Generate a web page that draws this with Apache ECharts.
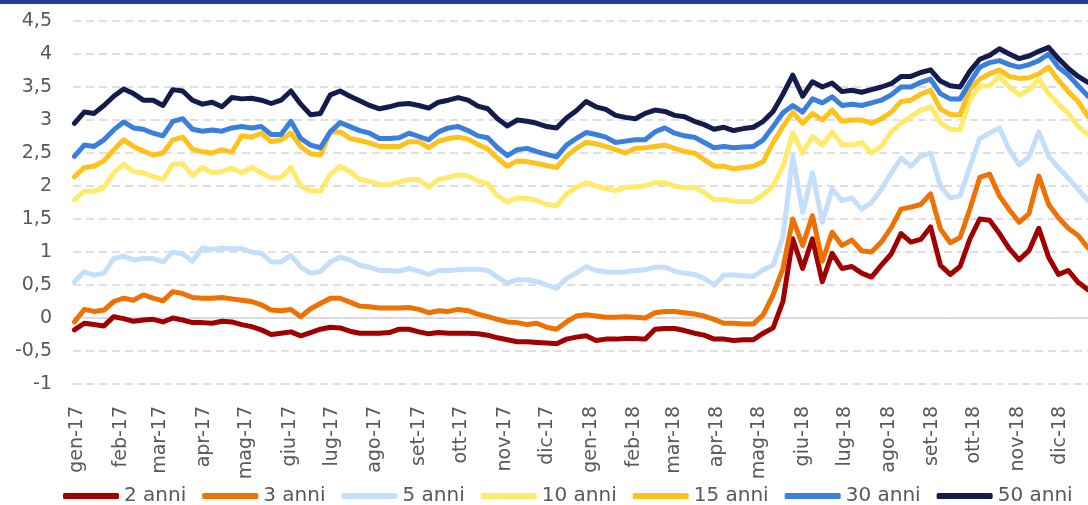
<!DOCTYPE html>
<html lang="it">
<head>
    <meta charset="UTF-8">
    <title>Rendimenti titoli di Stato</title>
    <script src="https://cdn.jsdelivr.net/npm/echarts@6/dist/echarts.min.js"></script>
    <style>
        html, body { margin: 0; padding: 0; background: #fff; }
        #chart { width: 1088px; height: 505px; }
    </style>
</head>
<body>
<div id="chart"></div>
<script type="text/javascript">
    // weekly readings, first week starting 2 Jan 2017
    const firstWeek = '2017-01-02';
    const monthNames = ['gen', 'feb', 'mar', 'apr', 'mag', 'giu', 'lug', 'ago', 'set', 'ott', 'nov', 'dic'];
    const seriesNames = ['2 anni', '3 anni', '5 anni', '10 anni', '15 anni', '30 anni', '50 anni'];
    const seriesColors = ['#A00000', '#EE7203', '#C5DFFB', '#FFEA6B', '#FFC21D', '#3A7FDC', '#141B4D'];

    const y2 = [-0.18, -0.08, -0.10, -0.12, 0.02, -0.01, -0.05, -0.03, -0.02, -0.06,
        0.00, -0.03, -0.07, -0.07, -0.08, -0.05, -0.06, -0.10, -0.13, -0.18,
        -0.25, -0.23, -0.21, -0.27, -0.22, -0.17, -0.14, -0.15, -0.20, -0.23,
        -0.23, -0.23, -0.22, -0.17, -0.17, -0.21, -0.24, -0.22, -0.23, -0.23,
        -0.23, -0.24, -0.26, -0.30, -0.33, -0.36, -0.36, -0.37, -0.38, -0.39,
        -0.32, -0.29, -0.27, -0.34, -0.32, -0.32, -0.31, -0.31, -0.32, -0.17,
        -0.16, -0.16, -0.19, -0.23, -0.26, -0.32, -0.32, -0.34, -0.33, -0.33,
        -0.23, -0.15, 0.25, 1.20, 0.75, 1.20, 0.55, 0.98, 0.75, 0.78,
        0.68, 0.62, 0.80, 0.97, 1.28, 1.15, 1.19, 1.38, 0.80, 0.66,
        0.78, 1.20, 1.50, 1.48, 1.28, 1.05, 0.88, 1.02, 1.36, 0.92,
        0.66, 0.72, 0.54, 0.43];
    const y3 = [-0.06, 0.13, 0.10, 0.12, 0.25, 0.30, 0.27, 0.35, 0.30, 0.26,
        0.40, 0.37, 0.31, 0.30, 0.30, 0.31, 0.29, 0.27, 0.25, 0.20,
        0.12, 0.11, 0.13, 0.02, 0.14, 0.22, 0.30, 0.30, 0.24, 0.18,
        0.17, 0.15, 0.15, 0.15, 0.16, 0.13, 0.08, 0.11, 0.10, 0.13,
        0.11, 0.06, 0.02, -0.02, -0.06, -0.07, -0.10, -0.08, -0.14, -0.17,
        -0.06, 0.03, 0.05, 0.03, 0.01, 0.01, 0.02, 0.01, 0.00, 0.08,
        0.10, 0.10, 0.08, 0.06, 0.03, -0.02, -0.08, -0.08, -0.09, -0.09,
        0.05, 0.35, 0.75, 1.50, 1.10, 1.55, 0.86, 1.30, 1.10, 1.18,
        1.02, 1.00, 1.15, 1.37, 1.65, 1.68, 1.72, 1.88, 1.35, 1.14,
        1.22, 1.65, 2.13, 2.18, 1.85, 1.64, 1.45, 1.58, 2.15, 1.72,
        1.52, 1.36, 1.25, 1.06];
    const y5 = [0.55, 0.70, 0.65, 0.68, 0.90, 0.94, 0.88, 0.90, 0.90, 0.85,
        1.00, 0.97, 0.86, 1.06, 1.04, 1.06, 1.05, 1.05, 1.00, 0.98,
        0.85, 0.85, 0.95, 0.77, 0.68, 0.70, 0.85, 0.92, 0.88, 0.80,
        0.77, 0.72, 0.72, 0.71, 0.75, 0.71, 0.66, 0.72, 0.72, 0.73,
        0.74, 0.74, 0.72, 0.62, 0.53, 0.58, 0.58, 0.55, 0.50, 0.45,
        0.60, 0.68, 0.78, 0.72, 0.70, 0.69, 0.70, 0.72, 0.73, 0.77,
        0.77, 0.71, 0.68, 0.66, 0.60, 0.50, 0.65, 0.65, 0.64, 0.63,
        0.73, 0.80, 1.23, 2.45, 1.60, 2.20, 1.45, 1.95, 1.78, 1.82,
        1.65, 1.75, 1.95, 2.20, 2.42, 2.30, 2.45, 2.50, 2.00, 1.82,
        1.85, 2.30, 2.72, 2.80, 2.88, 2.55, 2.32, 2.44, 2.82, 2.45,
        2.28, 2.12, 1.95, 1.78];
    const y10 = [1.79, 1.92, 1.92, 1.98, 2.20, 2.33, 2.22, 2.20, 2.14, 2.10,
        2.33, 2.34, 2.16, 2.28, 2.20, 2.22, 2.27, 2.20, 2.28, 2.20,
        2.12, 2.13, 2.28, 2.00, 1.93, 1.92, 2.18, 2.30, 2.22, 2.10,
        2.07, 2.02, 2.02, 2.06, 2.10, 2.10, 1.98, 2.10, 2.13, 2.17,
        2.15, 2.08, 2.03, 1.85, 1.76, 1.82, 1.81, 1.78, 1.72, 1.70,
        1.88, 1.98, 2.05, 2.00, 1.96, 1.93, 1.98, 1.99, 2.00, 2.05,
        2.05, 2.00, 1.97, 1.98, 1.90, 1.79, 1.80, 1.77, 1.76, 1.77,
        1.87, 2.00, 2.30, 2.80, 2.50, 2.75, 2.62, 2.82, 2.63, 2.62,
        2.66, 2.50, 2.60, 2.82, 2.95, 3.05, 3.15, 3.20, 2.96, 2.86,
        2.85, 3.31, 3.51, 3.52, 3.66, 3.50, 3.38, 3.46, 3.62, 3.40,
        3.24, 3.10, 2.90, 2.78];
    const y15 = [2.14, 2.28, 2.30, 2.38, 2.55, 2.70, 2.60, 2.53, 2.47, 2.50,
        2.70, 2.74, 2.56, 2.52, 2.50, 2.55, 2.51, 2.76, 2.74, 2.80,
        2.67, 2.70, 2.80, 2.60, 2.49, 2.47, 2.82, 2.82, 2.72, 2.69,
        2.65, 2.60, 2.60, 2.60, 2.67, 2.67, 2.58, 2.68, 2.72, 2.74,
        2.71, 2.63, 2.56, 2.42, 2.30, 2.38, 2.37, 2.34, 2.31, 2.28,
        2.45, 2.57, 2.66, 2.64, 2.60, 2.55, 2.50, 2.57, 2.58, 2.60,
        2.62, 2.57, 2.52, 2.50, 2.40, 2.30, 2.30, 2.26, 2.28, 2.30,
        2.37, 2.66, 2.90, 3.12, 2.95, 3.10, 3.00, 3.15, 2.98, 3.00,
        3.00, 2.95, 3.02, 3.12, 3.28, 3.30, 3.39, 3.45, 3.17, 3.08,
        3.08, 3.47, 3.62, 3.70, 3.76, 3.66, 3.63, 3.64, 3.70, 3.80,
        3.60, 3.43, 3.28, 3.05];
    const y30 = [2.45, 2.62, 2.60, 2.70, 2.85, 2.97, 2.88, 2.86, 2.80, 2.76,
        2.98, 3.02, 2.86, 2.83, 2.85, 2.83, 2.88, 2.90, 2.88, 2.90,
        2.78, 2.78, 2.98, 2.72, 2.62, 2.58, 2.82, 2.96, 2.90, 2.84,
        2.80, 2.72, 2.72, 2.73, 2.80, 2.75, 2.70, 2.82, 2.88, 2.90,
        2.84, 2.76, 2.73, 2.58, 2.46, 2.55, 2.57, 2.52, 2.48, 2.44,
        2.62, 2.72, 2.81, 2.78, 2.74, 2.66, 2.68, 2.70, 2.70, 2.82,
        2.88, 2.80, 2.76, 2.74, 2.66, 2.58, 2.60, 2.58, 2.59, 2.60,
        2.70, 2.90, 3.11, 3.22, 3.12, 3.32, 3.26, 3.35, 3.22, 3.24,
        3.22, 3.26, 3.30, 3.38, 3.50, 3.50, 3.57, 3.62, 3.40, 3.32,
        3.32, 3.57, 3.80, 3.87, 3.90, 3.84, 3.80, 3.84, 3.90, 4.00,
        3.80, 3.68, 3.52, 3.36];
    const y50 = [2.95, 3.12, 3.10, 3.22, 3.36, 3.47, 3.40, 3.30, 3.30, 3.22,
        3.46, 3.44, 3.30, 3.24, 3.27, 3.20, 3.34, 3.32, 3.33, 3.30,
        3.25, 3.30, 3.44, 3.24, 3.08, 3.10, 3.38, 3.44, 3.36, 3.29,
        3.22, 3.17, 3.20, 3.24, 3.25, 3.22, 3.18, 3.27, 3.30, 3.34,
        3.30, 3.21, 3.17, 3.02, 2.91, 3.00, 2.98, 2.95, 2.90, 2.88,
        3.03, 3.14, 3.28, 3.20, 3.16, 3.07, 3.04, 3.02, 3.10, 3.15,
        3.13, 3.07, 3.05, 2.98, 2.93, 2.86, 2.89, 2.84, 2.87, 2.89,
        2.98, 3.13, 3.39, 3.68, 3.36, 3.58, 3.50, 3.56, 3.43, 3.45,
        3.42, 3.46, 3.50, 3.55, 3.66, 3.66, 3.72, 3.76, 3.59, 3.52,
        3.50, 3.74, 3.92, 3.98, 4.08, 4.00, 3.93, 3.97, 4.04, 4.10,
        3.93, 3.78, 3.66, 3.57];

    const allValues = [y2, y3, y5, y10, y15, y30, y50];

    // x axis counted in days from 1 Jan 2017
    const DAY = 86400000;
    const origin = Date.UTC(2017, 0, 1);
    const start = Math.round((Date.parse(firstWeek + 'T00:00:00Z') - origin) / DAY);
    const weeks = y2.map((_, i) => start + i * 7);
    const lastDay = weeks[weeks.length - 1];
    const monthTicks = [];
    for (let m = 0; m < 24; m++) monthTicks.push(Math.round((Date.UTC(2017, m, 1) - origin) / DAY));

    const font = 'DejaVu Sans';
    const grey = '#595959';
    const gridGrey = '#d4d4da';

    let myChart = echarts.init(document.getElementById('chart'), null, {renderer: 'canvas'});

    let se = [];
    // solid line at zero, under the data
    se.push({
        type: 'line',
        silent: true,
        symbol: 'none',
        z: 1,
        color: gridGrey,
        lineStyle: {width: 1.5, color: gridGrey, type: 'solid'},
        data: [[0, 0], [lastDay, 0]]
    });
    seriesNames.forEach((name, k) => {
        se.push({
            name: name,
            type: 'line',
            showSymbol: false,
            symbol: 'none',
            z: 2,
            color: seriesColors[k],
            lineStyle: {width: 5, color: seriesColors[k], join: 'round', cap: 'round'},
            data: weeks.map((d, i) => [d, allValues[k][i]])
        });
    });

    let option = {
        animation: false,
        backgroundColor: '#ffffff',
        textStyle: {fontFamily: font},
        graphic: {
            elements: [{
                type: 'rect',
                z: 100,
                shape: {x: 0, y: 0, width: 1088, height: 4},
                style: {fill: '#233E92'}
            }]
        },
        grid: {left: 73, right: 0, top: 21, bottom: 121, show: false},
        legend: {
            left: 58,
            top: 481,
            icon: 'roundRect',
            itemWidth: 56,
            itemHeight: 6,
            itemGap: 16,
            textStyle: {fontFamily: font, fontSize: 20, color: grey},
            data: seriesNames
        },
        xAxis: {
            type: 'value',
            min: 0,
            max: lastDay,
            axisLine: {show: false},
            axisTick: {show: false},
            splitLine: {show: false},
            axisLabel: {
                customValues: monthTicks,
                rotate: 90,
                margin: 22,
                fontFamily: font,
                fontSize: 19,
                color: grey,
                showMinLabel: true,
                rich: {
                    m: {fontFamily: font, fontSize: 19, color: grey, padding: [9, 0, 0, 0]}
                },
                formatter: function (v) {
                    let d = new Date(origin + v * DAY);
                    return '{m|' + monthNames[d.getUTCMonth()] + '-' + String(d.getUTCFullYear()).slice(2) + '}';
                }
            }
        },
        yAxis: {
            type: 'value',
            min: -1,
            max: 4.5,
            interval: 0.5,
            axisLine: {show: false},
            axisTick: {show: false},
            splitLine: {
                show: true,
                lineStyle: {color: gridGrey, width: 1.5, type: [8, 5]}
            },
            axisLabel: {
                margin: 21,
                fontFamily: font,
                fontSize: 19,
                color: grey,
                formatter: v => String(v).replace('.', ',')
            }
        },
        series: se
    };
    myChart.setOption(option);
</script>
</body>
</html>
